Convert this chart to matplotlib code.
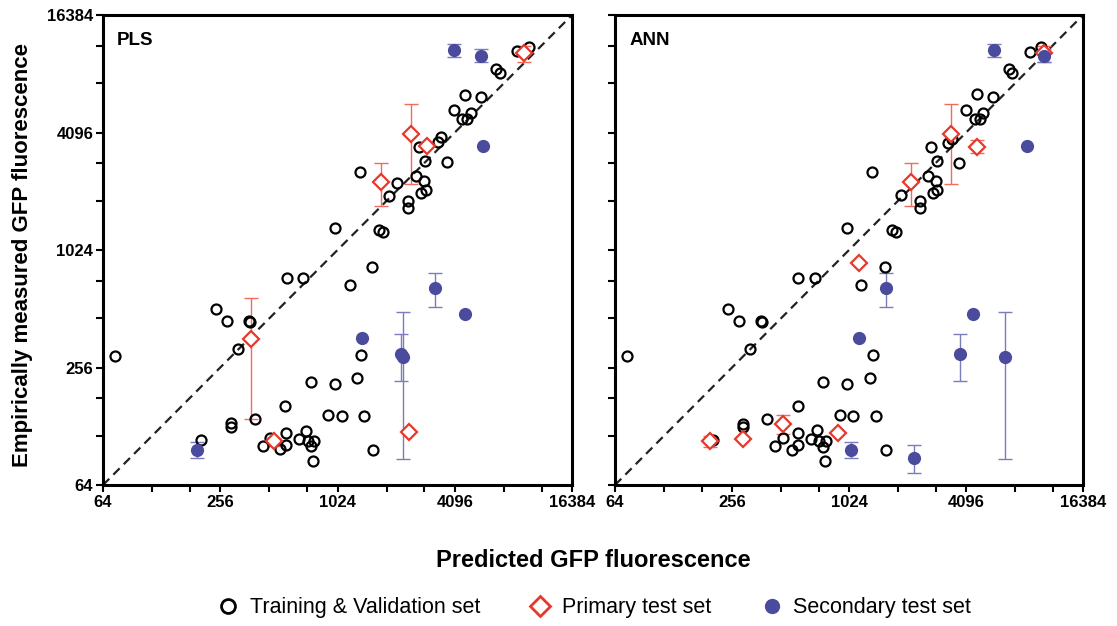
import numpy as np
import matplotlib
matplotlib.use('Agg')
from matplotlib import pyplot as plt
from matplotlib.lines import Line2D
from matplotlib.ticker import FixedLocator, NullFormatter

plt.rcParams['font.family'] = ['Liberation Sans', 'DejaVu Sans']

nan = np.nan

# training & validation set (predicted, measured)
pls_train_x = [9900, 8600, 6700, 7000, 4600, 5600, 4070, 4950, 4710, 4480, 3500, 3370, 2690, 2880, 3720,
               1340, 2580, 2860, 2080, 2920, 2740, 1880, 2350, 2360, 1670, 1760, 1000, 74, 243, 276,
               360, 364, 317, 562, 683, 1190, 386, 290, 290, 204, 553, 749, 997, 918, 1076,
               556, 461, 705, 652, 725, 778, 749, 556, 519, 423, 769, 1546, 1347, 1295, 1401, 1564]
pls_train_y = [11300, 10700, 8700, 8300, 6400, 6250, 5370, 5140, 4800, 4800, 3880, 3670, 3470, 2920, 2880,
               2580, 2440, 2310, 2270, 2080, 2000, 1940, 1820, 1680, 1290, 1260, 1330, 294, 510, 443,
               443, 437, 317, 738, 738, 677, 140, 133, 127, 109, 163, 216, 211, 146, 145,
               118, 112, 121, 110, 107, 108, 101, 103, 98, 102, 85, 841, 296, 225, 145, 97]

ann_train_x = [9950, 8740, 6840, 7090, 4650, 5660, 4096, 4990, 4830, 4560, 3460, 3320, 2710, 2915, 3790,
               1340, 2600, 2870, 1890, 2915, 2760, 2370, 2385, 1700, 1780, 1000, 74, 243, 279, 362,
               364, 317, 562, 684, 1180, 1570, 1356, 1313, 1411, 1582, 291, 291, 205, 389, 558,
               755, 1000, 922, 1077, 558, 467, 703, 653, 720, 780, 755, 562, 523, 426, 771]
ann_train_y = [11300, 10650, 8660, 8310, 6430, 6250, 5370, 5140, 4800, 4800, 3780, 3630, 3470, 2920, 2850,
               2580, 2450, 2310, 1960, 2080, 2000, 1820, 1680, 1290, 1260, 1330, 294, 512, 443, 443,
               437, 317, 738, 738, 677, 841, 296, 225, 145, 97, 132, 127, 109, 140, 163,
               216, 211, 146, 145, 118, 112, 122, 110, 107, 108, 100, 103, 97, 102, 85]

# primary test set (mean, lower, upper)
pls_prim_x = [9330, 2440, 2960, 1710, 367, 481, 2390]
pls_prim_y = [10440, 4010, 3490, 2290, 358, 107, 119]
pls_prim_lo = [9370, 2240, nan, 1720, 139, 102, nan]
pls_prim_hi = [11400, 5750, nan, 2870, 579, 112, nan]

ann_prim_x = [10310, 3425, 4650, 2128, 1150, 197, 290, 470, 896]
ann_prim_y = [10440, 4010, 3470, 2290, 876, 107, 110, 131, 118]
ann_prim_lo = [9370, 2240, 3200, 1720, nan, 100, nan, 117, nan]
ann_prim_hi = [11400, 5750, 3750, 2870, nan, 114, nan, 146, nan]

# secondary test set
pls_sec_x = [4070, 5570, 5700, 195, 3240, 4620, 1370, 2170, 2230]
pls_sec_y = [10820, 10140, 3500, 97, 652, 484, 362, 300, 291]
pls_sec_lo = [10010, 9370, nan, 88, 521, nan, nan, 219, 87]
pls_sec_hi = [11650, 10950, nan, 106, 784, nan, nan, 379, 495]

ann_sec_x = [5730, 10310, 8480, 1048, 1582, 4466, 1150, 2210, 3815, 6500]
ann_sec_y = [10820, 10140, 3500, 97, 652, 484, 364, 88, 299, 291]
ann_sec_lo = [10010, 9370, nan, 88, 521, nan, nan, 73.5, 219, 87]
ann_sec_hi = [11650, 10950, nan, 106, 784, nan, nan, 103, 379, 495]

ticks = [64, 256, 1024, 4096, 16384]
tick_labels = ['64', '256', '1024', '4096', '16384']

blue = '#4a4b9c'
blue_err = '#7b7cbb'
red = '#e8382b'
red_err = '#f26a5a'


def errs(y, lo, hi):
    y = np.array(y, float)
    return [y - np.array(lo, float), np.array(hi, float) - y]


def panel(ax, name, tx, ty, px, py, plo, phi, sx, sy, slo, shi, show_y):
    ax.set_xscale('log', base=2)
    ax.set_yscale('log', base=2)
    ax.set_xlim(64, 16384)
    ax.set_ylim(64, 16384)
    ax.plot([64, 16384], [64, 16384], color='#222222', ls=(0, (4, 2.6)), lw=1.6, zorder=1)

    ax.errorbar(px, py, yerr=errs(py, plo, phi), fmt='none', ecolor=red_err,
                elinewidth=1.0, capsize=5, capthick=1.0, zorder=2)
    ax.errorbar(sx, sy, yerr=errs(sy, slo, shi), fmt='none', ecolor=blue_err,
                elinewidth=1.0, capsize=5, capthick=1.0, zorder=2)

    ax.plot(tx, ty, 'o', ms=7.2, mfc='none', mec='black', mew=1.6, ls='none', zorder=3)
    ax.plot(px, py, 'D', ms=8, mfc='white', mec=red, mew=1.6, ls='none', zorder=4)
    ax.plot(sx, sy, 'o', ms=9.5, color=blue, mec='none', ls='none', zorder=5)

    for s in ax.spines.values():
        s.set_linewidth(2.2)
    minor = [t * f for t in ticks[:-1] for f in (1.79, 2.79)]
    for axis in (ax.xaxis, ax.yaxis):
        axis.set_major_locator(FixedLocator(ticks))
        axis.set_minor_locator(FixedLocator(minor))
        axis.set_minor_formatter(NullFormatter())
    ax.tick_params(which='both', direction='out', width=1.5, length=5, labelsize=12, pad=2)
    ax.set_xticklabels(tick_labels, fontweight='bold')
    if show_y:
        ax.set_yticklabels(tick_labels, fontweight='bold')
    else:
        ax.set_yticklabels([])
    ax.text(0.03, 0.945, name, transform=ax.transAxes, fontsize=13.5, fontweight='bold',
            va='center', ha='left')


fig = plt.figure(figsize=(11.17, 6.26), dpi=100)
ax1 = fig.add_axes([0.0922, 0.2252, 0.4199, 0.7508])
ax2 = fig.add_axes([0.5506, 0.2252, 0.419, 0.7508])

panel(ax1, 'PLS', pls_train_x, pls_train_y, pls_prim_x, pls_prim_y, pls_prim_lo, pls_prim_hi,
      pls_sec_x, pls_sec_y, pls_sec_lo, pls_sec_hi, True)
panel(ax2, 'ANN', ann_train_x, ann_train_y, ann_prim_x, ann_prim_y, ann_prim_lo, ann_prim_hi,
      ann_sec_x, ann_sec_y, ann_sec_lo, ann_sec_hi, False)

fig.text(0.0197, 0.593, 'Empirically measured GFP fluorescence', rotation=90, ha='center',
         va='center', fontsize=16, fontweight='bold')
fig.text(0.531, 0.1054, 'Predicted GFP fluorescence', ha='center', va='center',
         fontsize=17, fontweight='bold')

handles = [
    Line2D([], [], marker='o', ls='none', ms=10, mfc='none', mec='black', mew=2),
    Line2D([], [], marker='D', ls='none', ms=10, mfc='none', mec=red, mew=2),
    Line2D([], [], marker='o', ls='none', ms=11, color=blue, mec='none'),
]
labels = ['Training & Validation set', 'Primary test set', 'Secondary test set']
fig.legend(handles, labels, loc='center', bbox_to_anchor=(0.531, 0.029), ncol=3,
           frameon=False, fontsize=15.5, handletextpad=0.4, columnspacing=2.2, handlelength=1.2)

plt.savefig('out.png', dpi=100)
